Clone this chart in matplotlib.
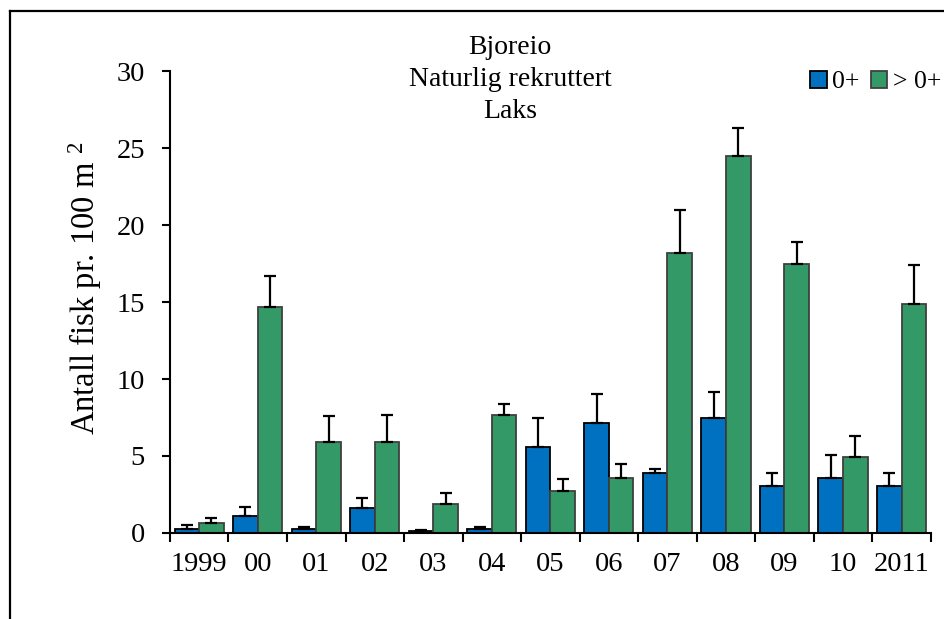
import numpy as np
import matplotlib
matplotlib.use("Agg")
import matplotlib.pyplot as plt
from matplotlib.lines import Line2D

plt.rcParams['font.family'] = ['Liberation Serif', 'DejaVu Serif']
plt.rcParams['mathtext.fontset'] = 'custom'
plt.rcParams['mathtext.rm'] = 'Liberation Serif'
plt.rcParams['mathtext.default'] = 'regular'

years = ['1999', '00', '01', '02', '03', '04', '05', '06', '07', '08', '09', '10', '2011']
fry = [0.25, 1.1, 0.25, 1.65, 0.1, 0.25, 5.6, 7.15, 3.9, 7.5, 3.05, 3.55, 3.05]
fry_err = [0.25, 0.6, 0.15, 0.6, 0.07, 0.15, 1.9, 1.9, 0.25, 1.65, 0.85, 1.5, 0.85]
parr = [0.65, 14.7, 5.9, 5.9, 1.9, 7.65, 2.75, 3.55, 18.2, 24.5, 17.5, 4.95, 14.9]
parr_err = [0.35, 2.0, 1.7, 1.75, 0.7, 0.75, 0.75, 0.95, 2.8, 1.8, 1.4, 1.35, 2.5]

BLUE = '#0070c0'
GREEN = '#339966'

fig = plt.figure(figsize=(9.44, 6.19), dpi=100)
ax = fig.add_axes([0.180, 0.139, 0.806, 0.746])

x = np.arange(len(years))
w = 0.42
err_kw = dict(ecolor='black', elinewidth=1.6, capsize=4.5, capthick=1.6)
ax.bar(x - w / 2, fry, w, color=BLUE, edgecolor='black', linewidth=1.3,
       yerr=[np.zeros(len(fry)), fry_err], error_kw=err_kw, label='0+')
ax.bar(x + w / 2, parr, w, color=GREEN, edgecolor='#404040', linewidth=1.3,
       yerr=[np.zeros(len(parr)), parr_err], error_kw=err_kw, label='> 0+')

ax.set_xlim(-0.5, len(years) - 0.5)
ax.set_ylim(0, 30)
ax.set_yticks(range(0, 31, 5))
ax.set_xticks(x)
ax.set_xticklabels(years)
ax.set_xticks(np.arange(-0.5, len(years)), minor=True)
ax.tick_params(axis='x', which='major', length=0, pad=14, labelsize=20.5)
ax.tick_params(axis='x', which='minor', length=6.5, width=1.5, direction='out')
ax.tick_params(axis='y', length=6, width=1.5, direction='out', pad=12, labelsize=20.5)

for side in ['top', 'right']:
    ax.spines[side].set_visible(False)
for side in ['left', 'bottom']:
    ax.spines[side].set_linewidth(1.5)

ax.set_ylabel(r'Antall fisk pr. 100 m $^{2}$', fontsize=23.5)
ax.yaxis.set_label_coords(-0.087, 0.53)

fig.text(510 / 944, 1 - 48 / 619, 'Bjoreio', ha='center', va='center', fontsize=20)
fig.text(510 / 944, 1 - 80 / 619, 'Naturlig rekruttert', ha='center', va='center', fontsize=20)
fig.text(510 / 944, 1 - 112 / 619, 'Laks', ha='center', va='center', fontsize=20)

ax.legend(loc='center right', bbox_to_anchor=(941 / 944, 1 - 82 / 619),
          bbox_transform=fig.transFigure, ncol=2, frameon=False, fontsize=18.5,
          handlelength=0.65, handleheight=0.65, handletextpad=0.2,
          columnspacing=0.45, borderpad=0, borderaxespad=0)

# outer frame (left and top edges)
fig.add_artist(Line2D([10 / 944, 10 / 944], [0, 1 - 11 / 619], color='black',
                      linewidth=1.6, transform=fig.transFigure))
fig.add_artist(Line2D([10 / 944, 1], [1 - 11 / 619, 1 - 11 / 619], color='black',
                      linewidth=1.6, transform=fig.transFigure))

fig.savefig('out.png', dpi=100)
